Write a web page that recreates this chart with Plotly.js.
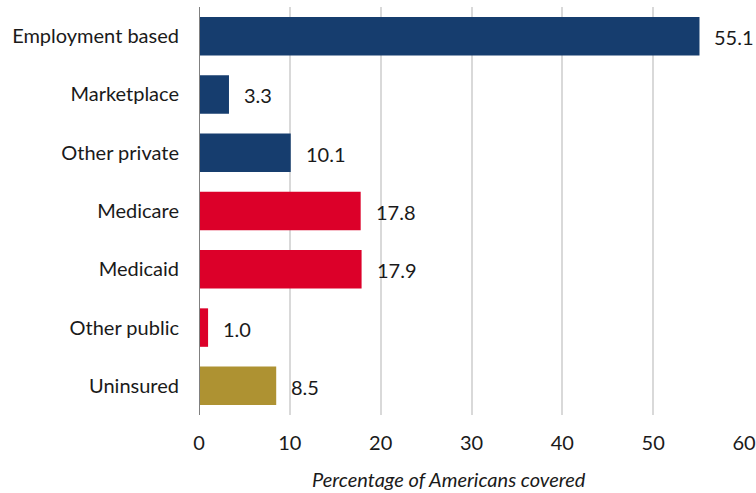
<!DOCTYPE html>
<html>
<head>
<meta charset="utf-8">
<script src="https://cdn.plot.ly/plotly-3.0.1.min.js"></script>
<style>html,body{margin:0;padding:0;background:#fff;}#chart{width:756px;height:493px;}</style>
</head>
<body>
<div id="chart"></div>
<script>
const categories = ["Employment based","Marketplace","Other private","Medicare","Medicaid","Other public","Uninsured"];
const values = [55.1, 3.3, 10.1, 17.8, 17.9, 1.0, 8.5];
const groups = ["private","private","private","public","public","public","uninsured"];
const groupColors = {private:"#163d6e", public:"#dc0029", uninsured:"#ae9232"};
const xTicks = [0,10,20,30,40,50,60];
const xTitle = "Percentage of Americans covered";

const FONT = "Lato, 'Source Sans Pro', 'Open Sans', sans-serif";
const TXT = "#1a1a1a";

const trace = {
  type: "bar",
  orientation: "h",
  y: categories,
  x: values,
  marker: {color: groups.map(g => groupColors[g])},
  width: 0.66,
  hoverinfo: "none"
};

const annotations = categories.map((c, i) => ({
  x: values[i], y: c, xref: "x", yref: "y",
  text: values[i].toFixed(1),
  showarrow: false, xanchor: "left", yanchor: "middle",
  xshift: 13, yshift: -1,
  font: {family: FONT, size: 20, color: TXT}
}));
annotations.push({
  xref: "paper", yref: "paper", x: 0.4587, y: -0.157,
  xanchor: "center", yanchor: "middle", showarrow: false,
  text: "<i>" + xTitle + "</i>",
  font: {family: FONT, size: 20, color: TXT}
});

const layout = {
  width: 756, height: 493,
  margin: {l: 199, r: 12, t: 7, b: 78},
  paper_bgcolor: "#fff", plot_bgcolor: "#fff",
  showlegend: false,
  font: {family: FONT, size: 20, color: TXT},
  xaxis: {
    range: [0, 60],
    tickvals: xTicks,
    ticktext: xTicks.map(String),
    showgrid: true, gridcolor: "#d9d9d9", gridwidth: 2,
    zeroline: false, showline: false,
    ticks: "", ticklen: 0,
    ticklabelstandoff: 14,
    tickfont: {family: FONT, size: 20, color: TXT},
    automargin: false
  },
  yaxis: {
    categoryorder: "array", categoryarray: categories.slice().reverse(),
    autorange: false, range: [-0.5, 6.5],
    showgrid: false, zeroline: false,
    showline: false,
    ticks: "", ticklen: 0,
    ticklabelstandoff: 19,
    tickfont: {family: FONT, size: 20, color: TXT},
    automargin: false
  },
  shapes: [{type: "line", xref: "x", yref: "paper", x0: 0, x1: 0, y0: 0, y1: 1, line: {color: "#808080", width: 2}}],
  annotations: annotations
};

Plotly.newPlot("chart", [trace], layout, {displayModeBar: false, staticPlot: true});
</script>
</body>
</html>
